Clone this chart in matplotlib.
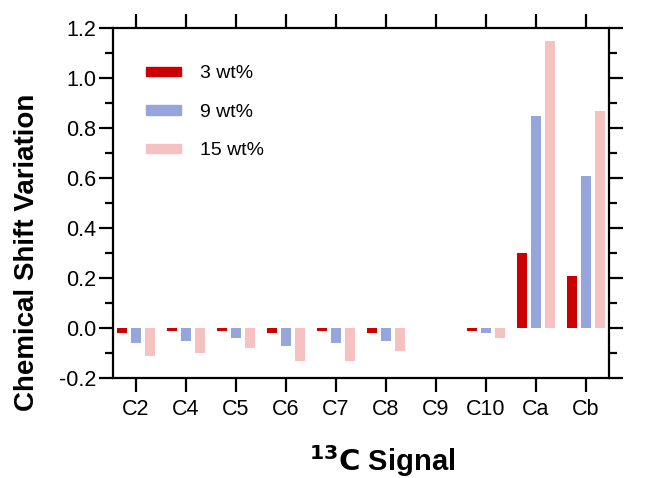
import matplotlib.pyplot as plt
import numpy as np
from matplotlib.ticker import MultipleLocator
from matplotlib.patches import Patch

plt.rcParams['font.family'] = ['Liberation Sans', 'DejaVu Sans']

senales = ['C2', 'C4', 'C5', 'C6', 'C7', 'C8', 'C9', 'C10', 'Ca', 'Cb']
etiquetas = ['3 wt%', '9 wt%', '15 wt%']
var_3 = [-0.02, -0.01, -0.01, -0.02, -0.01, -0.02, 0.0, -0.01, 0.30, 0.21]
var_9 = [-0.06, -0.05, -0.04, -0.07, -0.06, -0.05, 0.0, -0.02, 0.85, 0.61]
var_15 = [-0.11, -0.10, -0.08, -0.13, -0.13, -0.09, 0.0, -0.04, 1.15, 0.87]
colores = ['#cc0000', '#97a5dd', '#f6c1c1']

fig = plt.figure(figsize=(6.67, 4.78), dpi=100)
ax = fig.add_axes([0.1694, 0.2092, 0.7436, 0.7322])

x = np.arange(len(senales))
ancho = 0.19
for desp, valores, color in zip([-0.28, 0, 0.28], [var_3, var_9, var_15], colores):
    ax.bar(x + desp, valores, ancho, color=color)

ax.set_xlim(-0.46, 9.46)
ax.set_ylim(-0.2, 1.2)
ax.set_xticks(x)
ax.set_xticklabels(senales, fontsize=15.5)
ax.yaxis.set_minor_locator(MultipleLocator(0.1))
yt = np.arange(-0.2, 1.21, 0.2)
ax.set_yticks(yt)
ax.set_yticklabels([f'{v:.1f}' for v in yt], fontsize=15.5)

for s in ax.spines.values():
    s.set_linewidth(1.6)
ax.tick_params(which='major', direction='out', length=10, width=1.6,
               top=True, right=True, pad=2)
ax.tick_params(which='minor', direction='out', length=5.5, width=1.6,
               left=True, right=True)
ax.tick_params(axis='x', which='minor', bottom=False, top=False)
ax.tick_params(axis='x', which='major', pad=5)

ax.set_ylabel('Chemical Shift Variation', fontsize=20, fontweight='bold')
ax.yaxis.set_label_coords(-0.148, 0.36)
ax.set_xlabel('$\\mathbf{^{13}C}$ Signal', fontsize=21, fontweight='bold')
ax.xaxis.set_label_coords(0.542, -0.186)

manijas = [Patch(color=c) for c in colores]
ax.legend(manijas, etiquetas, loc='upper left', frameon=False, fontsize=14,
          handlelength=1.8, handleheight=0.36, handletextpad=1.0,
          labelspacing=1.1, borderpad=0, borderaxespad=0,
          bbox_to_anchor=(0.066, 0.893))

fig.savefig('out.png', dpi=100)
